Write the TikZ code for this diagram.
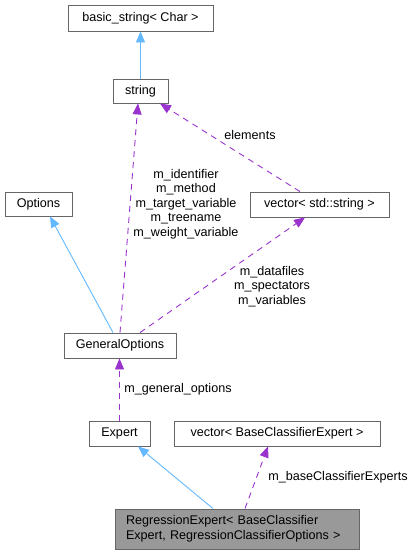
\documentclass[tikz,border=0pt]{standalone}
\usepackage{fontspec}
\setmainfont{Liberation Sans}
\usetikzlibrary{arrows.meta}
\definecolor{boxgray}{HTML}{666666}
\definecolor{inhblue}{HTML}{63B8FF}
\definecolor{usepurple}{HTML}{9A32CD}
\definecolor{hlfill}{HTML}{999999}
\tikzset{
  cls/.style={draw=boxgray, line width=0.9pt, fill=white, inner sep=0pt, minimum height=25pt,
    font=\fontsize{12.6}{14.7}\selectfont},
  hl/.style={cls, fill=hlfill},
  inh/.style={draw=inhblue, line width=0.9pt, -{Triangle[length=11pt,width=9pt,fill=inhblue]}},
  usage/.style={draw=usepurple, line width=0.9pt, dash pattern=on 6pt off 5pt,
    -{Triangle[length=11pt,width=9pt,fill=usepurple]}},
  lbl/.style={font=\fontsize{12.6}{14.6}\selectfont, align=center, inner sep=0pt},
}
\begin{document}
\begin{tikzpicture}[x=1pt,y=-1pt]
\useasboundingbox (0,0) rectangle (419,555);
\node[cls, minimum width=145pt, minimum height=26pt] (bs) at (140.5,18) {basic\_string< Char >};
\node[cls, minimum width=55pt, minimum height=24pt] (str) at (140.5,91) {string};
\node[cls, minimum width=67pt, minimum height=24pt] (opt) at (38.5,204) {Options};
\node[cls, minimum width=139pt] (vs) at (319.5,204.5) {vector< std::string >};
\node[cls, minimum width=112pt] (go) at (120,345.5) {GeneralOptions};
\node[cls, minimum width=61pt] (exp) at (119.5,433.5) {Expert};
\node[cls, minimum width=206pt] (vb) at (277,433.5) {vector< BaseClassifierExpert >};
\node[hl, minimum width=244pt, minimum height=40pt, align=left, text width=222pt] (re) at (237,529)
  {RegressionExpert< BaseClassifier\\Expert, RegressionClassifierOptions >};

\draw[inh] (str.north) -- (bs.south);
\draw[inh] ([xshift=-7pt]go.north) -- ([xshift=11.5pt]opt.south);
\draw[usage] (go.north) -- ([xshift=-2.5pt]str.south);
\draw[usage] ([xshift=-19.5pt]vs.north) -- ([xshift=19.5pt]str.south);
\draw[usage] ([xshift=20pt]go.north) -- ([xshift=-14.5pt]vs.south);
\draw[usage] (exp.north) -- (exp.north |- go.south);
\draw[inh] ([xshift=-24pt]re.north) -- ([xshift=18.5pt]exp.south);
\draw[usage] ([xshift=8pt]re.north) -- ([xshift=-9pt]vb.south);

\node[lbl] (l1) at (186,204) {m\_identifier\\m\_method\\m\_target\_variable\\m\_treename\\m\_weight\_variable};
\node[lbl] (l2) at (250,135) {elements};
\node[lbl] (l3) at (272,286.5) {m\_datafiles\\m\_spectators\\m\_variables};
\node[lbl] (l4) at (178,389) {m\_general\_options};
\node[lbl] (l5) at (338,477) {m\_baseClassifierExperts};
\end{tikzpicture}
\end{document}
